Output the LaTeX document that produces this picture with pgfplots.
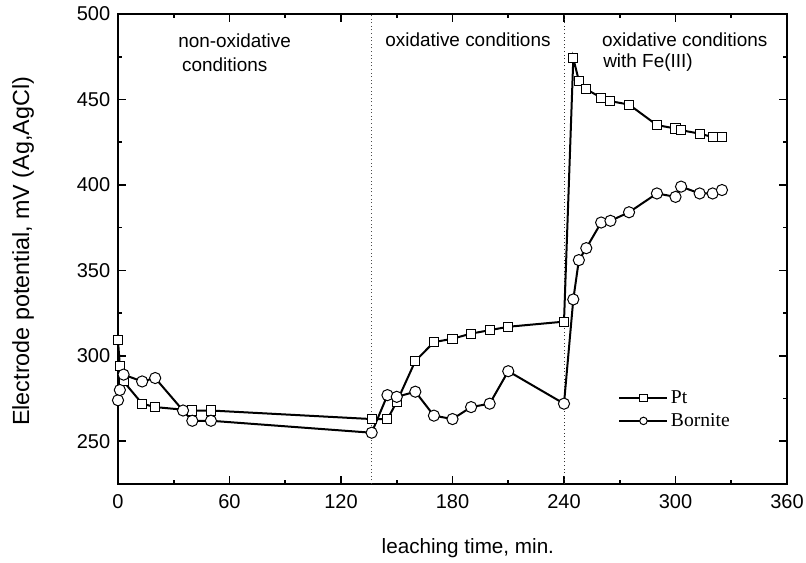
\documentclass[border=0pt]{standalone}
\usepackage{fontspec}
\setmainfont{Liberation Sans}
\newfontfamily\legfont{Liberation Serif}
\usepackage{pgfplots}
\pgfplotsset{compat=1.18}
\begin{document}
\begin{tikzpicture}
\useasboundingbox (0,0) rectangle (604.5pt,421.5pt);
\begin{axis}[
  at={(88.5pt,58.5pt)}, anchor=south west,
  scale only axis, width=501.75pt, height=352.5pt,
  xmin=0, xmax=360, ymin=225, ymax=500,
  xtick={0,60,...,360}, ytick={250,300,...,500},
  minor x tick num=1, minor y tick num=1,
  tick align=inside,
  major tick length=6pt, minor tick length=3pt,
  axis line style={line width=1.5pt},
  every tick/.style={line width=1.2pt, black},
  /pgf/number format/assume math mode=true,
  tick label style={font=\fontsize{15}{18}\selectfont},
  xticklabel style={yshift=-4.3pt},
  yticklabel style={xshift=-2.3pt},
  xlabel={leaching time, min.},
  ylabel={Electrode potential, mV (Ag,AgCl)},
  xlabel style={font=\fontsize{15.5}{18}\selectfont, at={(axis description cs:0.523,-0.136)}, anchor=center},
  ylabel style={font=\fontsize{17.5}{20}\selectfont, at={(axis description cs:-0.142,0.495)}, anchor=center},
  clip=false,
  legend style={draw=none, fill=none, at={(axis description cs:0.748,0.205)}, anchor=north west,
    font=\legfont\fontsize{14.7}{17}\selectfont, row sep=2pt, inner sep=0pt},
  legend cell align=left,
  legend image code/.code={\draw[mark repeat=2,mark phase=2,#1,line width=1.2pt,mark size=2.8pt] plot coordinates {(0pt,0pt)(18pt,0pt)(36pt,0pt)};},
]
\addplot[black!70, dotted, line width=0.7pt, forget plot] coordinates {(136.5,225) (136.5,500)};
\addplot[black!80, dotted, line width=0.7pt, forget plot] coordinates {(240,225) (240,500)};

\addplot[black, line width=1.5pt, mark=square*, mark size=3.4pt, mark options={fill=white, draw=black, line width=0.75pt}] coordinates {
(0,309) (1,294) (3,285) (13,272) (20,270) (40,268) (50,268) (136.5,263) (145,263) (150,273) (160,297) (170,308) (180,310) (190,313) (200,315) (210,317) (240,320) (245,474) (248,461) (252,456) (260,451) (265,449) (275,447) (290,435) (300,433) (303,432) (313,430) (320,428) (325,428)
};
\addlegendentry{Pt}
\addplot[black, line width=1.5pt, mark=*, mark size=4.2pt, mark options={fill=white, draw=black, line width=0.75pt}] coordinates {
(0,274) (1,280) (3,289) (13,285) (20,287) (35,268) (40,262) (50,262) (136.5,255) (145,277) (150,276) (160,279) (170,265) (180,263) (190,270) (200,272) (210,291) (240,272) (245,333) (248,356) (252,363) (260,378) (265,379) (275,384) (290,395) (300,393) (303,399) (313,395) (320,395) (325,397)
};
\addlegendentry{Bornite}

\node[anchor=west, font=\fontsize{14.2}{17}\selectfont, inner sep=0pt] at (axis cs:32.3,484.2) {non-oxidative};
\node[anchor=west, font=\fontsize{14.2}{17}\selectfont, inner sep=0pt] at (axis cs:34.4,470.2) {conditions};
\node[anchor=west, font=\fontsize{14.2}{17}\selectfont, inner sep=0pt] at (axis cs:143.7,484.8) {oxidative conditions};
\node[anchor=west, font=\fontsize{14.2}{17}\selectfont, inner sep=0pt] at (axis cs:260.4,484.8) {oxidative conditions};
\node[anchor=west, font=\fontsize{14.2}{17}\selectfont, inner sep=0pt] at (axis cs:261,471.3) {with Fe(III)};
\end{axis}
\end{tikzpicture}
\end{document}
